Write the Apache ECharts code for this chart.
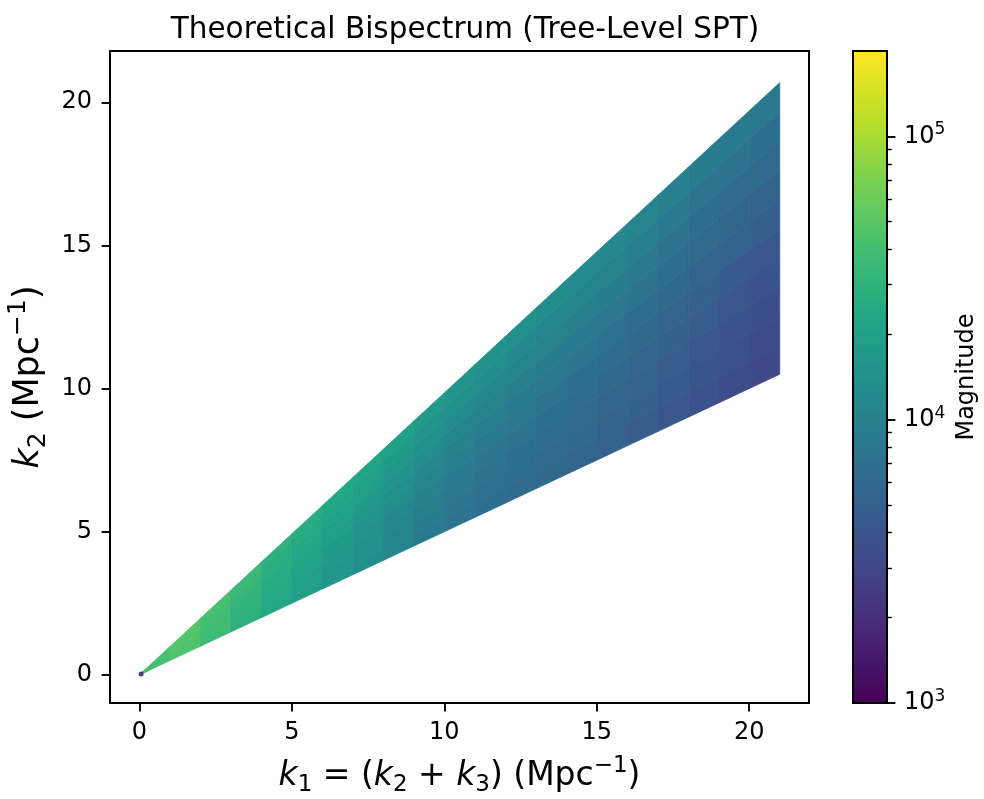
<!DOCTYPE html>
<html>
<head>
<meta charset="utf-8">
<title>Theoretical Bispectrum (Tree-Level SPT)</title>
<script src="https://cdn.jsdelivr.net/npm/echarts@6/dist/echarts.min.js"></script>
<style>
html, body { margin: 0; padding: 0; background: #fff; }
#main { width: 984px; height: 799px; }
</style>
</head>
<body>
<div id="main"></div>
<script>
// k1 column edges; each band runs between k2 = k1/2 (t=0) and k2 ~ k1 (t=1)
var k1Edges = [0.07, 1, 2, 3, 4, 5, 6, 7, 8, 9, 10, 11, 12, 13, 14, 15, 16, 17, 18, 19, 20, 21];
var bandEdges = [0, 0.1, 0.2, 0.3, 0.4, 0.5, 0.6, 0.7, 0.8, 0.9, 1];
var k2LowRatio = 0.5;
var k2HighRatio = 0.985;

// log10(magnitude), one array per band (bottom band first), one value per k1 column
var logMagBand1  = [4.60, 4.64, 4.56, 4.46, 4.37, 4.28, 4.20, 4.12, 4.03, 3.94, 3.87, 3.84, 3.81, 3.78, 3.75, 3.71, 3.67, 3.63, 3.59, 3.54, 3.50];
var logMagBand2  = [4.60, 4.64, 4.56, 4.46, 4.38, 4.29, 4.21, 4.13, 4.04, 3.96, 3.89, 3.86, 3.83, 3.80, 3.77, 3.73, 3.69, 3.65, 3.61, 3.56, 3.52];
var logMagBand3  = [4.60, 4.65, 4.57, 4.47, 4.38, 4.30, 4.22, 4.15, 4.06, 3.98, 3.91, 3.88, 3.85, 3.82, 3.79, 3.75, 3.71, 3.67, 3.63, 3.59, 3.55];
var logMagBand4  = [4.60, 4.65, 4.57, 4.48, 4.39, 4.31, 4.24, 4.16, 4.08, 4.00, 3.94, 3.90, 3.87, 3.85, 3.82, 3.78, 3.74, 3.70, 3.67, 3.62, 3.59];
var logMagBand5  = [4.60, 4.65, 4.58, 4.48, 4.40, 4.32, 4.25, 4.19, 4.11, 4.03, 3.97, 3.93, 3.91, 3.88, 3.85, 3.82, 3.78, 3.74, 3.70, 3.66, 3.63];
var logMagBand6  = [4.60, 4.66, 4.59, 4.49, 4.41, 4.34, 4.28, 4.21, 4.14, 4.07, 4.00, 3.97, 3.94, 3.92, 3.89, 3.86, 3.82, 3.78, 3.74, 3.71, 3.68];
var logMagBand7  = [4.60, 4.66, 4.59, 4.50, 4.42, 4.36, 4.30, 4.24, 4.17, 4.10, 4.04, 4.01, 3.98, 3.96, 3.94, 3.91, 3.87, 3.83, 3.79, 3.76, 3.73];
var logMagBand8  = [4.60, 4.67, 4.60, 4.52, 4.44, 4.38, 4.32, 4.27, 4.21, 4.15, 4.09, 4.05, 4.03, 4.01, 3.98, 3.96, 3.92, 3.88, 3.84, 3.81, 3.79];
var logMagBand9  = [4.60, 4.67, 4.61, 4.53, 4.45, 4.40, 4.35, 4.30, 4.25, 4.19, 4.14, 4.10, 4.08, 4.06, 4.04, 4.01, 3.97, 3.93, 3.90, 3.88, 3.85];
var logMagBand10 = [4.60, 4.68, 4.62, 4.54, 4.47, 4.42, 4.38, 4.34, 4.29, 4.24, 4.19, 4.15, 4.13, 4.11, 4.09, 4.07, 4.03, 3.99, 3.96, 3.94, 3.92];

// the single point at the tip (smallest k)
var tipK1 = [0.06];
var tipK2 = [0.03];
var tipLogMag = [3.05];

var xTicks = [0, 5, 10, 15, 20];
var yTicks = [0, 5, 10, 15, 20];
var cbMin = 1e3;
var cbMax = 2.0e5;
var cbMajor = [1e3, 1e4, 1e5];
var cbMinor = [2e3, 3e3, 4e3, 5e3, 6e3, 7e3, 8e3, 9e3, 2e4, 3e4, 4e4, 5e4, 6e4, 7e4, 8e4, 9e4];

var viridis = ['#440154', '#482475', '#414487', '#355f8d', '#2a788e', '#21918c', '#22a884', '#44bf70', '#7ad151', '#bddf26', '#fde725'];
var FONT = 'DejaVu Sans';

var bands = [logMagBand1, logMagBand2, logMagBand3, logMagBand4, logMagBand5,
             logMagBand6, logMagBand7, logMagBand8, logMagBand9, logMagBand10];
var cells = [];
bands.forEach(function (row, j) {
    row.forEach(function (lm, i) {
        cells.push([i, j, lm]);
    });
});
var tipData = tipK1.map(function (k, i) {
    return [k, tipK2[i], tipLogMag[i]];
});

function k2At(k1, t) {
    var lo = k1 * k2LowRatio, hi = k1 * k2HighRatio;
    return lo + t * (hi - lo);
}

function renderCell(params, api) {
    var i = api.value(0), j = api.value(1);
    var ka = k1Edges[i], kb = k1Edges[i + 1];
    var ta = bandEdges[j], tb = bandEdges[j + 1];
    var pts = [
        api.coord([ka, k2At(ka, ta)]),
        api.coord([kb, k2At(kb, ta)]),
        api.coord([kb, k2At(kb, tb)]),
        api.coord([ka, k2At(ka, tb)])
    ];
    var c = api.visual('color');
    return {
        type: 'polygon',
        shape: { points: pts },
        style: { fill: c, stroke: c, lineWidth: 0.8 }
    };
}

function mathRich(size) {
    var s = Math.round(size * 0.7);
    return {
        m: { fontFamily: FONT, fontSize: size, color: '#000' },
        i: { fontFamily: FONT, fontSize: size, fontStyle: 'italic', color: '#000' },
        sub: { fontFamily: FONT, fontSize: s, color: '#000', padding: [Math.round(size * 0.55), 0, 0, 0] },
        sup: { fontFamily: FONT, fontSize: s, color: '#000', padding: [0, 0, Math.round(size * 0.6), 0] }
    };
}

var myChart = echarts.init(document.getElementById('main'));

var option = {
    backgroundColor: '#fff',
    animation: false,
    title: {
        text: 'Theoretical Bispectrum (Tree-Level SPT)',
        left: 460,
        textAlign: 'center',
        top: 10,
        textStyle: { fontFamily: FONT, fontSize: 29.5, fontWeight: 'normal', color: '#000' }
    },
    grid: [
        { left: 110, top: 51, width: 699, height: 652, outerBoundsMode: 'none', containLabel: false, show: true, borderColor: '#000', borderWidth: 2, backgroundColor: 'transparent' },
        { left: 853, top: 51, width: 34, height: 652, outerBoundsMode: 'none', containLabel: false, show: true, borderColor: '#000', borderWidth: 2, backgroundColor: 'transparent', z: 10 }
    ],
    xAxis: [
        {
            type: 'value', gridIndex: 0, min: -0.96, max: 21.96,
            axisLine: { show: false, onZero: false },
            splitLine: { show: false },
            axisTick: { customValues: xTicks, length: 8.4, lineStyle: { color: '#000', width: 1.9 } },
            axisLabel: { customValues: xTicks, margin: 18, fontFamily: FONT, fontSize: 24, color: '#000' },
            name: '{i|k}{sub|1}{m| = (}{i|k}{sub|2}{m| + }{i|k}{sub|3}{m|) (Mpc}{sup|\u22121}{m|)}',
            nameLocation: 'middle',
            nameGap: 52,
            nameTextStyle: { rich: mathRich(33) }
        },
        { type: 'value', gridIndex: 1, show: false, min: 0, max: 1 }
    ],
    yAxis: [
        {
            type: 'value', gridIndex: 0, min: -0.98, max: 21.79,
            axisLine: { show: false, onZero: false },
            splitLine: { show: false },
            axisTick: { customValues: yTicks, length: 8.4, lineStyle: { color: '#000', width: 1.9 } },
            axisLabel: { customValues: yTicks, margin: 18, fontFamily: FONT, fontSize: 24, color: '#000' },
            name: '{i|k}{sub|2}{m| (Mpc}{sup|\u22121}{m|)}',
            nameLocation: 'middle',
            nameRotate: 90,
            nameGap: 57,
            nameTextStyle: { rich: mathRich(35) }
        },
        {
            type: 'log', gridIndex: 1, min: cbMin, max: cbMax, position: 'right',
            axisLine: { show: false, onZero: false },
            splitLine: { show: false },
            axisTick: { customValues: cbMajor, length: 8.4, lineStyle: { color: '#000', width: 1.9 } },
            axisLabel: {
                customValues: cbMajor, margin: 17, color: '#000',
                formatter: function (v) { return '{b|10}{s|' + Math.round(Math.log10(v)) + '}'; },
                rich: {
                    b: { fontFamily: FONT, fontSize: 24, color: '#000' },
                    s: { fontFamily: FONT, fontSize: 17, color: '#000', padding: [0, 0, 13, 0] }
                }
            },
            name: 'Magnitude',
            nameLocation: 'middle',
            nameRotate: 90,
            nameGap: 68,
            nameTextStyle: { fontFamily: FONT, fontSize: 24, color: '#000' }
        },
        {
            type: 'log', gridIndex: 1, min: cbMin, max: cbMax, position: 'right',
            axisLine: { show: false, onZero: false },
            splitLine: { show: false },
            axisTick: { customValues: cbMinor, length: 4.8, lineStyle: { color: '#000', width: 1.4 } },
            axisLabel: { show: false }
        }
    ],
    visualMap: {
        type: 'continuous',
        min: Math.log10(cbMin),
        max: Math.log10(cbMax),
        dimension: 2,
        seriesIndex: [0, 1],
        calculable: false,
        left: 853,
        top: 51,
        itemWidth: 34,
        itemHeight: 652,
        padding: 0,
        inRange: { color: viridis }
    },
    series: [
        {
            type: 'custom',
            xAxisIndex: 0,
            yAxisIndex: 0,
            renderItem: renderCell,
            data: cells,
            clip: true
        },
        {
            type: 'scatter',
            xAxisIndex: 0,
            yAxisIndex: 0,
            symbolSize: 5,
            data: tipData
        }
    ]
};

myChart.setOption(option);
</script>
</body>
</html>
